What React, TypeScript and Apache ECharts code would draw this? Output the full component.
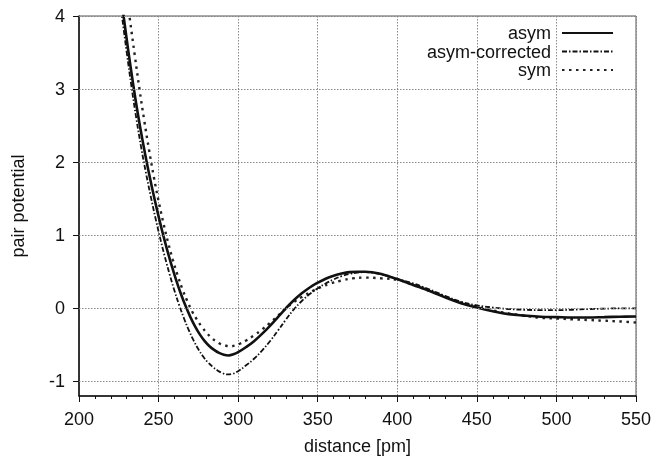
import React, { useEffect, useRef } from "react";
import * as echarts from "echarts";

const yTicks = [-1, 0, 1, 2, 3, 4];

const asymX = [225, 228, 231, 234, 237, 240, 243, 246, 249, 252, 255, 258, 261, 264, 267, 270, 273, 276, 279, 282, 285, 288, 291, 294, 297, 300, 305, 310, 315, 320, 325, 330, 335, 340, 345, 350, 355, 360, 365, 370, 375, 380, 385, 390, 395, 400, 410, 420, 430, 440, 450, 460, 470, 480, 490, 500, 510, 520, 530, 540, 550];
const asymY = [4.5, 4.0, 3.52, 3.07, 2.66, 2.29, 1.95, 1.64, 1.35, 1.08, 0.83, 0.6, 0.39, 0.2, 0.03, -0.12, -0.25, -0.36, -0.45, -0.52, -0.57, -0.61, -0.635, -0.645, -0.63, -0.6, -0.53, -0.45, -0.35, -0.24, -0.12, 0.0, 0.11, 0.205, 0.285, 0.35, 0.405, 0.445, 0.475, 0.495, 0.5, 0.5, 0.49, 0.47, 0.435, 0.4, 0.32, 0.24, 0.15, 0.07, 0.01, -0.04, -0.08, -0.1, -0.115, -0.12, -0.125, -0.125, -0.12, -0.115, -0.113];

const corrX = [224, 227, 230, 233, 236, 239, 242, 245, 248, 251, 254, 257, 260, 263, 266, 269, 272, 275, 278, 281, 284, 287, 290, 293, 296, 300, 305, 310, 315, 320, 325, 330, 335, 340, 345, 350, 355, 360, 365, 370, 375, 380, 385, 390, 395, 400, 410, 420, 430, 440, 450, 460, 470, 480, 490, 500, 510, 520, 530, 540, 550];
const corrY = [4.52, 4.0, 3.5, 3.03, 2.6, 2.21, 1.86, 1.54, 1.24, 0.96, 0.7, 0.46, 0.24, 0.04, -0.14, -0.3, -0.44, -0.56, -0.66, -0.74, -0.8, -0.85, -0.885, -0.905, -0.9, -0.86, -0.78, -0.69, -0.58, -0.45, -0.305, -0.155, -0.015, 0.1, 0.195, 0.275, 0.34, 0.395, 0.44, 0.47, 0.488, 0.495, 0.485, 0.465, 0.435, 0.4, 0.34, 0.26, 0.17, 0.09, 0.04, 0.01, -0.01, -0.02, -0.025, -0.025, -0.02, -0.01, -0.005, 0.0, 0.0];

const symX = [229, 232, 235, 238, 241, 244, 247, 250, 253, 256, 259, 262, 265, 268, 271, 274, 277, 280, 283, 286, 289, 292, 295, 298, 301, 305, 310, 315, 320, 325, 330, 335, 340, 347, 352, 358, 365, 372, 380, 390, 400, 410, 420, 430, 440, 450, 460, 470, 480, 490, 500, 510, 520, 530, 540, 550];
const symY = [4.45, 3.95, 3.47, 3.0, 2.57, 2.17, 1.8, 1.47, 1.17, 0.9, 0.66, 0.45, 0.26, 0.1, -0.04, -0.15, -0.25, -0.33, -0.4, -0.45, -0.49, -0.51, -0.52, -0.51, -0.485, -0.44, -0.37, -0.29, -0.2, -0.1, 0.0, 0.085, 0.155, 0.24, 0.29, 0.34, 0.38, 0.41, 0.42, 0.41, 0.39, 0.32, 0.24, 0.16, 0.08, 0.02, -0.03, -0.07, -0.1, -0.13, -0.14, -0.15, -0.16, -0.17, -0.18, -0.195];

const names = ["asym", "asym-corrected", "sym"];

const FONT = '"Liberation Sans", Arial, Helvetica, sans-serif';

function pairs(xs: number[], ys: number[]) {
  return xs.map((x, i) => [x, ys[i]]);
}

export default function App() {
  const ref = useRef<HTMLDivElement>(null);
  useEffect(() => {
    if (!ref.current) return;
    const chart = echarts.init(ref.current, undefined, { renderer: "svg" });
    const legendTops = [24, 42.5, 61];
    const styles: any[] = [
      { color: "#111", width: 2.6, type: "solid" },
      { color: "#111", width: 1.8, type: [5, 2, 1.5, 2] },
      { color: "#222", width: 2.4, type: [2.5, 4.5] },
    ];
    const data = [pairs(asymX, asymY), pairs(corrX, corrY), pairs(symX, symY)];
    chart.setOption({
      animation: false,
      grid: {
        left: 79,
        right: 21,
        top: 16,
        bottom: 62,
        show: true,
        borderColor: "#555",
        borderWidth: 1,
      },
      legend: names.map((n, i) => ({
        data: [n],
        right: 43,
        top: legendTops[i],
        align: "right",
        padding: 0,
        itemWidth: 51,
        itemHeight: 14,
        itemStyle: { opacity: 0 },
        textStyle: {
          fontFamily: FONT,
          fontSize: 18,
          lineHeight: 18,
          color: "#111",
          padding: [0, 6, 0, 0],
        },
        selectedMode: false,
      })),
      xAxis: {
        type: "value",
        min: 200,
        max: 550,
        interval: 50,
        name: "distance [pm]",
        nameLocation: "middle",
        nameGap: 41,
        nameTextStyle: { fontFamily: FONT, fontSize: 18, color: "#111" },
        axisLine: { show: true, onZero: false, lineStyle: { color: "#111", width: 1.5 } },
        axisTick: { show: true, length: 6, lineStyle: { color: "#111" } },
        minorTick: { show: true, splitNumber: 5, length: 3, lineStyle: { color: "#111" } },
        axisLabel: {
          fontFamily: FONT,
          fontSize: 18,
          color: "#111",
          margin: 14,
        },
        splitLine: { show: true, lineStyle: { color: "#888", type: [1.5, 1.5], width: 1 } },
      },
      yAxis: {
        type: "value",
        min: -1.2,
        max: 4,
        name: "pair potential",
        nameLocation: "middle",
        nameGap: 52,
        nameTextStyle: { fontFamily: FONT, fontSize: 18, color: "#111" },
        axisLine: { show: true, onZero: false, lineStyle: { color: "#111", width: 1.5 } },
        axisTick: { show: true, length: 6, customValues: yTicks, lineStyle: { color: "#111" } },
        axisLabel: {
          fontFamily: FONT,
          fontSize: 18,
          color: "#111",
          margin: 14,
          customValues: yTicks,
        },
        splitLine: { show: false },
      },
      series: [
        ...names.map((n, i) => ({
          name: n,
          type: "line",
          data: data[i],
          showSymbol: false,
          symbol: "none",
          smooth: 0.4,
          clip: true,
          lineStyle: styles[i],
          itemStyle: { color: styles[i].color },
          z: 3 - i,
        })),
        {
          name: "__grid",
          type: "line",
          data: [],
          markLine: {
            silent: true,
            symbol: "none",
            label: { show: false },
            lineStyle: { color: "#888", type: [1.5, 1.5], width: 1 },
            data: yTicks.map((v) => ({ yAxis: v })),
          },
        },
      ],
    });
    return () => chart.dispose();
  }, []);
  return (
    <div
      ref={ref}
      style={{ position: "fixed", left: 0, top: 0, width: 657, height: 460 }}
    />
  );
}
